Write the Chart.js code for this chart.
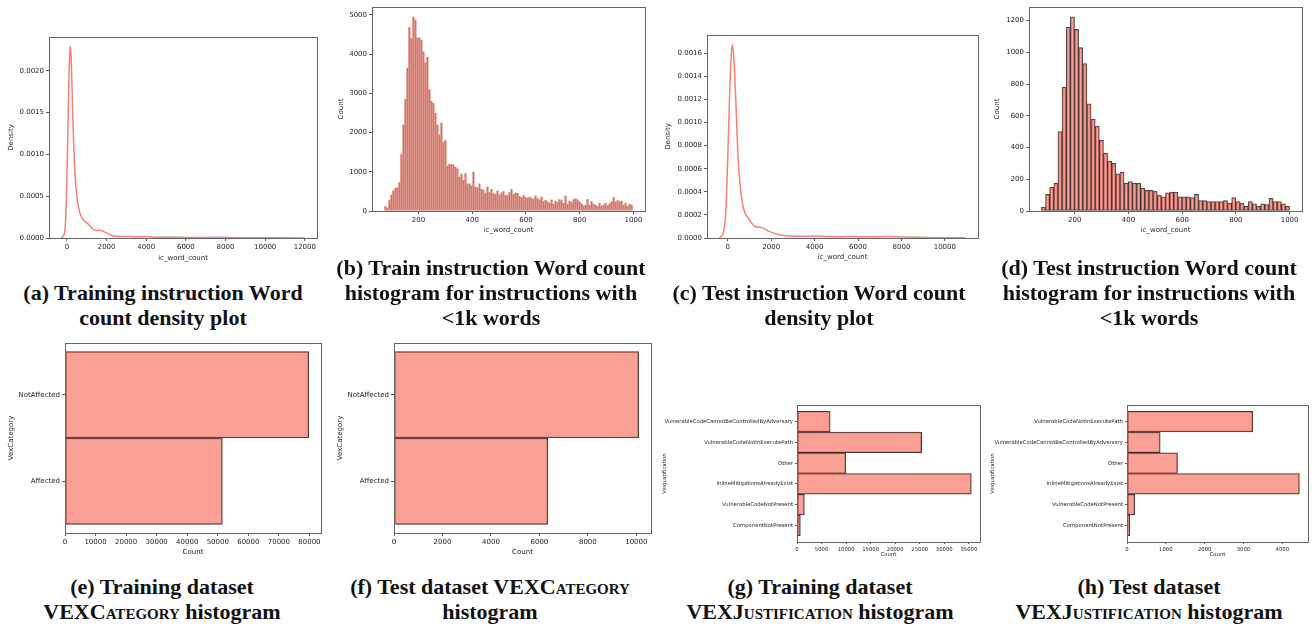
<!DOCTYPE html>
<html>
<head>
<meta charset="utf-8">
<script src="https://cdn.jsdelivr.net/npm/chart.js@4.4.0/dist/chart.umd.min.js"></script>
<style>
  html, body { margin: 0; padding: 0; background: #fff; overflow: hidden; }
  body { width: 1315px; height: 627px; position: relative; }
  .plot { position: absolute; }
  .cap { position: absolute; width: 360px; text-align: center; font-family: 'Liberation Serif', serif;
         font-weight: bold; font-size: 22px; line-height: 25px; color: #111; white-space: nowrap; }
  .sc { font-variant: small-caps; }
</style>
</head>
<body>
<div class="plot" id="pa"><canvas></canvas></div>
<div class="plot" id="pb"><canvas></canvas></div>
<div class="plot" id="pc"><canvas></canvas></div>
<div class="plot" id="pd"><canvas></canvas></div>
<div class="plot" id="pe"><canvas></canvas></div>
<div class="plot" id="pf"><canvas></canvas></div>
<div class="plot" id="pg"><canvas></canvas></div>
<div class="plot" id="ph"><canvas></canvas></div>

<div class="cap" style="left:-17px;top:280px">(a) Training instruction Word<br>count density plot</div>
<div class="cap" style="left:311px;top:255px">(b) Train instruction Word count<br>histogram for instructions with<br>&lt;1k words</div>
<div class="cap" style="left:639px;top:280px">(c) Test instruction Word count<br>density plot</div>
<div class="cap" style="left:969px;top:255px">(d) Test instruction Word count<br>histogram for instructions with<br>&lt;1k words</div>
<div class="cap" style="left:-18px;top:574px">(e) Training dataset<br>VEX<span class="sc">Category</span> histogram</div>
<div class="cap" style="left:310px;top:574px">(f) Test dataset VEX<span class="sc">Category</span><br>histogram</div>
<div class="cap" style="left:640px;top:574px">(g) Training dataset<br>VEX<span class="sc">Justification</span> histogram</div>
<div class="cap" style="left:969px;top:574px">(h) Test dataset<br>VEX<span class="sc">Justification</span> histogram</div>

<script>
// density curves (word count -> density)
const trainDensityX = [-290, -200, -100, -50, 0, 50, 100, 150, 180, 220, 270, 330, 400, 500, 600, 700, 850, 950, 1100, 1300,
  1500, 1700, 1900, 2100, 2400, 2800, 3200, 3600, 4000, 4400, 5000, 5500, 6000, 7000, 7800, 8500, 9500, 10500, 12000];
const trainDensityY = [0, 0.00002, 0.0001, 0.0003, 0.0007, 0.0013, 0.0019, 0.00225, 0.00229, 0.0021, 0.0017, 0.0012, 0.0008, 0.0005, 0.00035, 0.00027, 0.00021, 0.00019, 0.00016, 0.00011,
  0.00009, 0.00009, 0.00007, 0.00005, 0.00002, 0.000018, 0.000018, 0.000014, 0.000018, 0.00001, 0.000008, 0.00001, 0.000006, 0.000005, 0.000008, 0.000004, 0.000003, 0.000002, 0.000001];

const testDensityX = [-390, -200, -90, 0, 90, 150, 215, 300, 385, 460, 570, 720, 950, 1260, 1570, 1880, 2340, 2800, 3400, 4000,
  4600, 5100, 5600, 6500, 7400, 8000, 9000, 10000, 10960];
const testDensityY = [0, 0.00005, 0.00023, 0.0007, 0.00127, 0.00156, 0.001675, 0.00148, 0.00112, 0.00075, 0.00046, 0.00026, 0.00017, 0.0001, 0.00009, 0.00006, 0.00003, 0.000017, 0.000015, 0.000017,
  0.000012, 0.00001, 0.000012, 0.00001, 0.000012, 0.000008, 0.000005, 0.000003, 0.000002];

// histograms of instructions with <1k words
const trainHistStart = 73;
const trainHistWidth = 7.45;
const trainHistCounts = [
  120, 85, 270, 420, 520, 590, 600, 730, 1450, 2200,
  2850, 3650, 4680, 4400, 4950, 4880, 4420, 4420, 4360, 4060,
  3780, 3930, 3100, 2800, 2750, 2500, 2200, 1950, 2250, 1760,
  1800, 1150, 1200, 1190, 1180, 1120, 1080, 870, 950, 780,
  960, 700, 700, 650, 1000, 620, 600, 700, 560, 540,
  460, 620, 480, 560, 450, 430, 520, 420, 470, 500,
  410, 400, 480, 560, 430, 470, 460, 380, 350, 400,
  360, 330, 370, 330, 310, 390, 320, 290, 360, 250,
  280, 240, 210, 290, 180, 260, 220, 300, 270, 200,
  390, 180, 260, 220, 300, 320, 290, 240, 190, 140,
  150, 300, 150, 250, 180, 150, 120, 200, 130, 160,
  200, 140, 190, 240, 350, 240, 270, 250, 260, 150,
  210, 120, 180, 160];

const testHistStart = 76;
const testHistWidth = 15.4;
const testHistCounts = [
  25, 105, 150, 175, 500, 780, 1160, 1225, 1145, 1030,
  930, 675, 580, 535, 445, 365, 315, 300, 235, 245,
  175, 185, 175, 175, 145, 130, 130, 125, 100, 90,
  115, 120, 120, 90, 90, 90, 85, 105, 65, 65,
  60, 60, 60, 60, 65, 50, 85, 60, 50, 30,
  60, 45, 30, 45, 40, 80, 60, 60, 45, 30];

// VEX category / justification counts
const categoryLabels = ['NotAffected', 'Affected'];
const categoryTrain = [79800, 51500];
const categoryTest = [10100, 6350];

const justTrainLabels = ['VulnerableCodeCannotBeControlledByAdversary', 'VulnerableCodeNotInExecutePath', 'Other',
  'InlineMitigationsAlreadyExist', 'VulnerableCodeNotPresent', 'ComponentNotPresent'];
const justTrainCounts = [6750, 25400, 9950, 35500, 1500, 680];
const justTestLabels = ['VulnerableCodeNotInExecutePath', 'VulnerableCodeCannotBeControlledByAdversary', 'Other',
  'InlineMitigationsAlreadyExist', 'VulnerableCodeNotPresent', 'ComponentNotPresent'];
const justTestCounts = [3240, 855, 1300, 4440, 200, 70];

// tick labels
const trainDensityXTicks = [0, 2000, 4000, 6000, 8000, 10000, 12000];
const trainDensityYTicks = [0, 0.0005, 0.001, 0.0015, 0.002];
const testDensityXTicks = [0, 2000, 4000, 6000, 8000, 10000];
const testDensityYTicks = [0, 0.0002, 0.0004, 0.0006, 0.0008, 0.001, 0.0012, 0.0014, 0.0016];
const histXTicks = [200, 400, 600, 800, 1000];
const trainHistYTicks = [0, 1000, 2000, 3000, 4000, 5000];
const testHistYTicks = [0, 200, 400, 600, 800, 1000, 1200];
const categoryTrainTicks = [0, 10000, 20000, 30000, 40000, 50000, 60000, 70000, 80000];
const categoryTestTicks = [0, 2000, 4000, 6000, 8000, 10000];
const justTrainTicks = [0, 5000, 10000, 15000, 20000, 25000, 30000, 35000];
const justTestTicks = [0, 1000, 2000, 3000, 4000];

Chart.defaults.font.family = 'DejaVu Sans';
Chart.defaults.color = '#262626';
Chart.defaults.animation = false;

const SALMON = '#fa8072';
const BAR_FILL = 'rgba(250,128,114,0.75)';

// matplotlib-like box round the plot
const frame = {
  id: 'frame',
  afterDatasetsDraw(chart) {
    const a = chart.chartArea;
    const ctx = chart.ctx;
    ctx.save();
    ctx.strokeStyle = '#666';
    ctx.lineWidth = 1;
    const l = Math.round(a.left) + 0.5, t = Math.round(a.top) + 0.5;
    ctx.strokeRect(l, t, Math.round(a.right) - Math.round(a.left), Math.round(a.bottom) - Math.round(a.top));
    ctx.restore();
  }
};

function margins(lo, hi) {
  const pad = (hi - lo) * 0.05;
  return [lo - pad, hi + pad];
}

function axis(range, ticks, title, fs, fmt) {
  return {
    type: 'linear', min: range[0], max: range[1], offset: false,
    afterBuildTicks: s => { s.ticks = ticks.map(v => ({ value: v })); },
    grid: { display: true, offset: false, drawOnChartArea: false, drawTicks: true, tickLength: fs > 6 ? 3 : 2, tickWidth: 0.8, tickColor: '#333' },
    border: { display: false },
    ticks: { font: { size: fs }, padding: 2, autoSkip: false, maxRotation: 0, minRotation: 0, callback: fmt || (v => String(v)) },
    title: { display: true, text: title, font: { size: fs }, padding: 4 }
  };
}

function makePanel(id, box, ylabX, xlabY, fs, type, datasets, xAxis, yAxis, indexAxis) {
  const lh = fs * 1.2;
  const left = Math.round(ylabX - 4 - lh / 2);
  const top = box.t - 8;
  const right = box.r + 12;
  const bottom = Math.round(xlabY + 4 + lh / 2);
  const wrap = document.getElementById(id);
  Object.assign(wrap.style, {
    left: left + 'px', top: top + 'px',
    width: (right - left) + 'px', height: (bottom - top) + 'px'
  });
  xAxis.afterFit = s => { s.height = bottom - box.b; };
  yAxis.afterFit = s => { s.width = box.l - left; };
  new Chart(wrap.querySelector('canvas'), {
    type,
    data: { datasets },
    options: {
      indexAxis: indexAxis || 'x',
      responsive: true,
      maintainAspectRatio: false,
      layout: { padding: { top: 8, right: 12, left: 0, bottom: 0 } },
      plugins: { legend: { display: false }, tooltip: { enabled: false } },
      scales: { x: xAxis, y: yAxis }
    },
    plugins: [frame]
  });
}

function densityPanel(id, box, ylabX, xlabY, xs, ys, xTicks, yTicks) {
  const pts = xs.map((x, i) => ({ x, y: ys[i] }));
  makePanel(id, box, ylabX, xlabY, 7, 'line', [{
    data: pts, borderColor: SALMON, borderWidth: 1.5, pointRadius: 0,
    cubicInterpolationMode: 'monotone', fill: false
  }],
    axis(margins(Math.min(...xs), Math.max(...xs)), xTicks, 'ic_word_count', 7),
    axis([0, Math.max(...ys) * 1.05], yTicks, 'Density', 7, v => v.toFixed(4)));
}

function histPanel(id, box, ylabX, xlabY, start, width, counts, yTicks, fill, edge, edgeW) {
  const pts = counts.map((c, i) => ({ x: start + width * (i + 0.5), y: c }));
  makePanel(id, box, ylabX, xlabY, 7, 'bar', [{
    data: pts, backgroundColor: fill, borderColor: edge, borderWidth: edgeW,
    borderSkipped: false, barPercentage: 1, categoryPercentage: 1
  }],
    axis(margins(start, start + width * counts.length), histXTicks, 'ic_word_count', 7),
    axis([0, Math.max(...counts) * 1.05], yTicks, 'Count', 7));
}

function barhPanel(id, box, ylabX, xlabY, fs, labels, counts, xTicks, ylab) {
  const n = labels.length;
  const pts = counts.map((c, i) => ({ x: c, y: i }));
  const yAxis = axis([-0.5 - 0.05 * n, n - 0.5 + 0.05 * n], labels.map((l, i) => i), ylab, fs, v => labels[v]);
  yAxis.reverse = true;
  makePanel(id, box, ylabX, xlabY, fs, 'bar', [{
    data: pts, backgroundColor: BAR_FILL, borderColor: 'rgba(40,20,20,0.85)', borderWidth: 1,
    borderSkipped: false, barPercentage: 1, categoryPercentage: 1
  }],
    axis([0, Math.max(...counts) * 1.05], xTicks, 'Count', fs),
    yAxis, 'y');
}

densityPanel('pa', { l: 49, t: 37, r: 317, b: 238 }, 11, 258, trainDensityX, trainDensityY, trainDensityXTicks, trainDensityYTicks);
histPanel('pb', { l: 372, t: 7, r: 645, b: 211 }, 341, 230, trainHistStart, trainHistWidth, trainHistCounts,
  trainHistYTicks, 'rgb(214,118,104)', 'rgba(232,175,165,0.5)', 0.3);
densityPanel('pc', { l: 707, t: 35, r: 978, b: 238 }, 668, 257, testDensityX, testDensityY, testDensityXTicks, testDensityYTicks);
histPanel('pd', { l: 1029, t: 7, r: 1302, b: 211 }, 997, 230, testHistStart, testHistWidth, testHistCounts,
  testHistYTicks, BAR_FILL, 'rgba(40,20,20,0.8)', 1);

barhPanel('pe', { l: 65, t: 343, r: 321, b: 533 }, 11, 552, 7, categoryLabels, categoryTrain, categoryTrainTicks, 'VexCategory');
barhPanel('pf', { l: 394, t: 343, r: 651, b: 533 }, 340, 552, 7, categoryLabels, categoryTest, categoryTestTicks, 'VexCategory');
barhPanel('pg', { l: 797, t: 405, r: 980, b: 542 }, 664, 555, 5.3, justTrainLabels, justTrainCounts, justTrainTicks, 'VexJustification');
barhPanel('ph', { l: 1127, t: 405, r: 1308, b: 542 }, 992, 555, 5.3, justTestLabels, justTestCounts, justTestTicks, 'VexJustification');
</script>
</body>
</html>
